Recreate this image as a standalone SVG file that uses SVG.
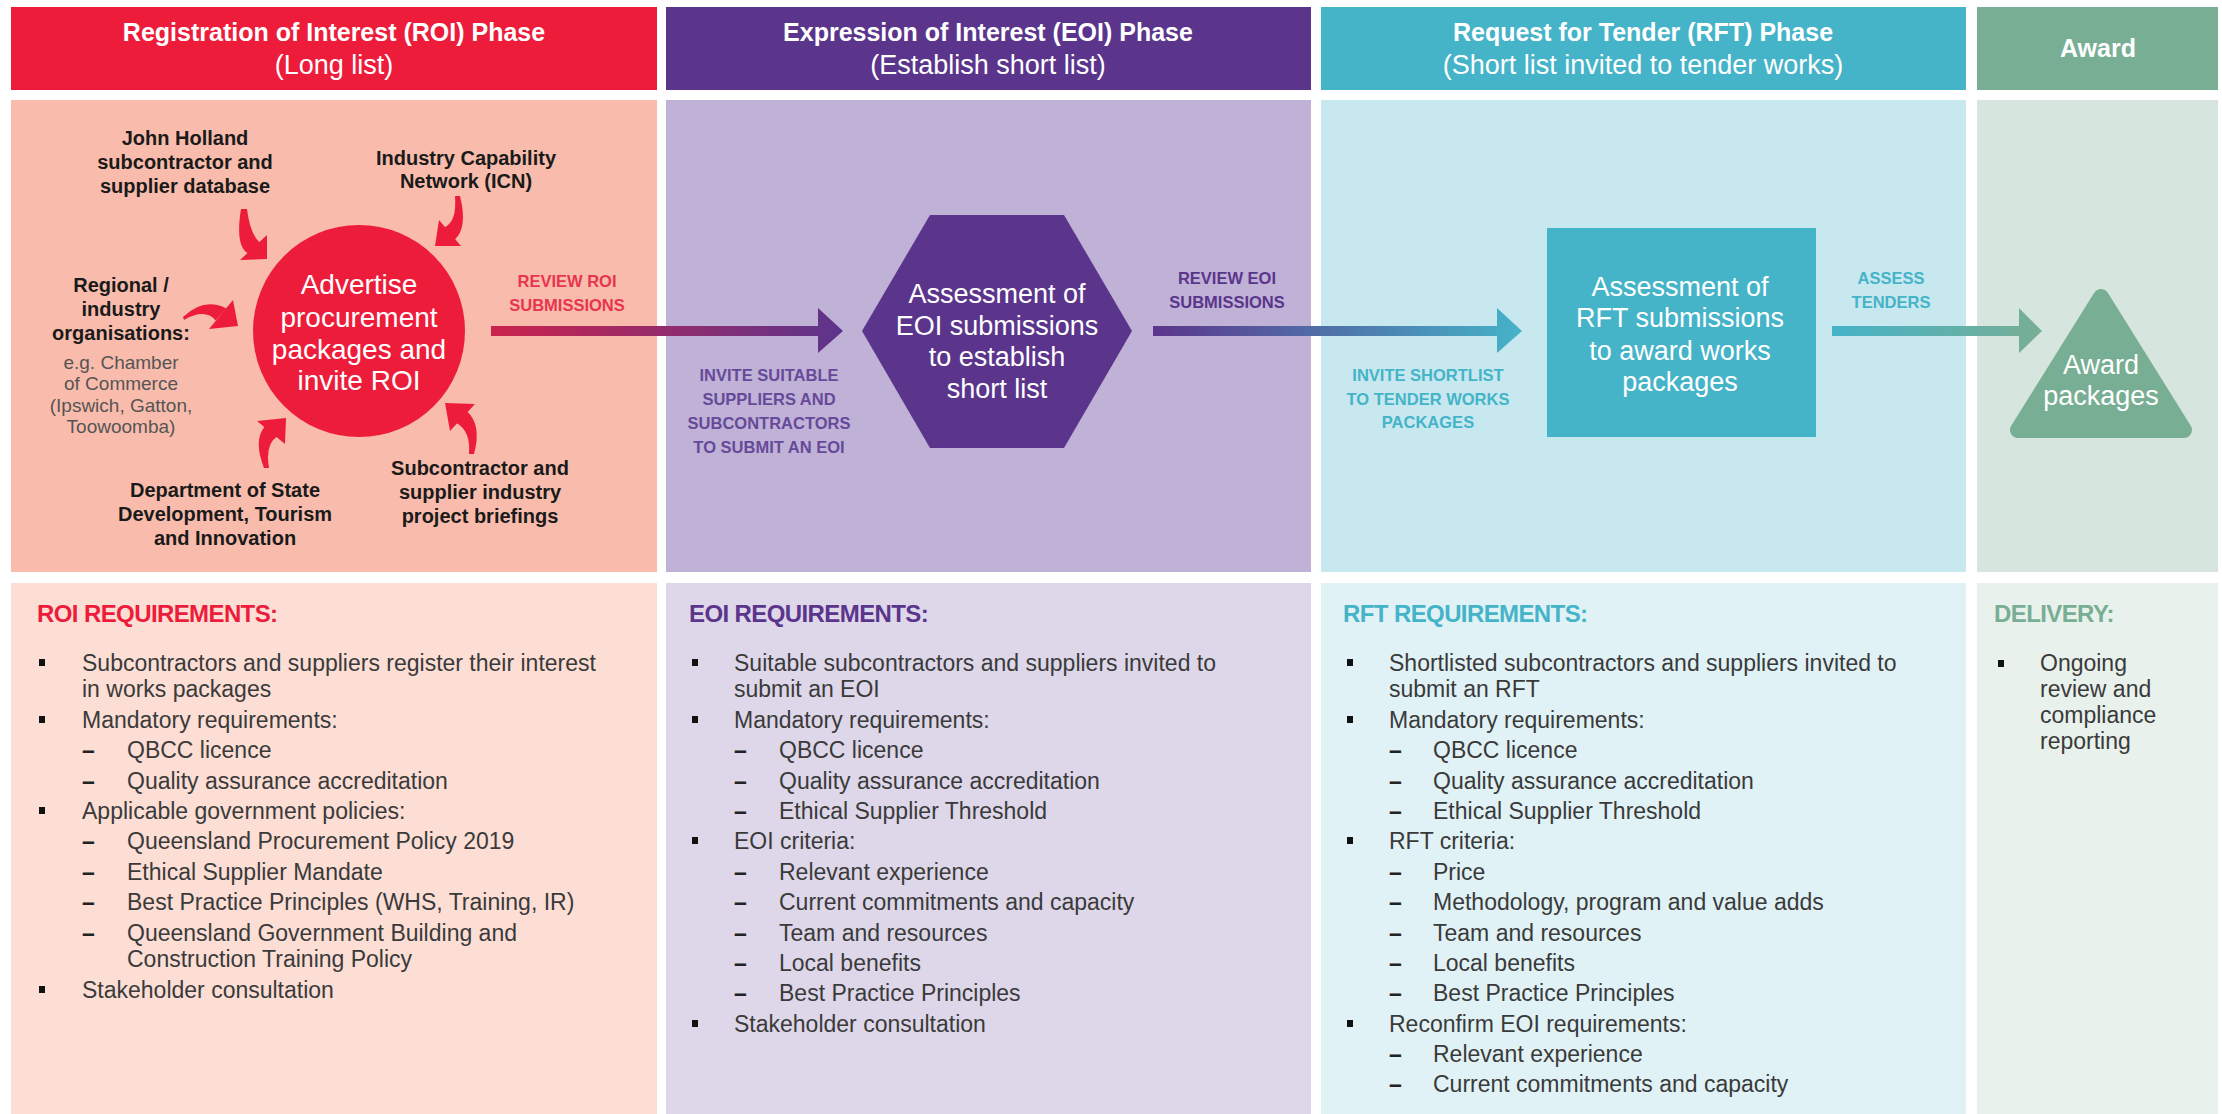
<svg xmlns="http://www.w3.org/2000/svg" width="2222" height="1114" viewBox="0 0 2222 1114">
<defs>
<linearGradient id="g1" gradientUnits="userSpaceOnUse" x1="491" y1="0" x2="843" y2="0"><stop offset="0" stop-color="#CB234C"/><stop offset="1" stop-color="#5B358C"/></linearGradient>
<linearGradient id="g2" gradientUnits="userSpaceOnUse" x1="1153" y1="0" x2="1522" y2="0"><stop offset="0" stop-color="#5B358C"/><stop offset="1" stop-color="#45B3C8"/></linearGradient>
<linearGradient id="g3" gradientUnits="userSpaceOnUse" x1="1832" y1="0" x2="2042" y2="0"><stop offset="0" stop-color="#45B3C8"/><stop offset="1" stop-color="#78AE94"/></linearGradient>
<style>
text{font-family:"Liberation Sans",Arial,sans-serif}
.t{font-size:25px;font-weight:bold;fill:#fff;text-anchor:middle}
.st{font-size:27px;fill:#fff;text-anchor:middle}
.lbl{font-size:20px;font-weight:bold;fill:#1a1a1a;text-anchor:middle}
.eg{font-size:19px;fill:#555;text-anchor:middle}
.nt{font-size:27px;fill:#fff;text-anchor:middle}
.cap{font-size:16.5px;font-weight:bold;text-anchor:middle}
.h{font-size:24px;font-weight:bold;letter-spacing:-0.6px}
.li{font-size:23px;fill:#3a3a3a}
.d{font-size:23px;fill:#222;font-weight:bold}
.b{fill:#111}
.ra{fill:#EE1C3B}
</style>
</defs>
<rect width="2222" height="1114" fill="#fff"/>
<g id="panels">
<rect x="11" y="7" width="646" height="83" fill="#EE1C3B"/>
<rect x="666" y="7" width="645" height="83" fill="#5B358C"/>
<rect x="1321" y="7" width="645" height="83" fill="#45B3C8"/>
<rect x="1977" y="7" width="241" height="83" fill="#78AE94"/>
<rect x="11" y="100" width="646" height="472" fill="#F9BCAC"/>
<rect x="666" y="100" width="645" height="472" fill="#C0B1D6"/>
<rect x="1321" y="100" width="645" height="472" fill="#C7E8EF"/>
<rect x="1977" y="100" width="241" height="472" fill="#D6E5DD"/>
<rect x="11" y="583" width="646" height="531" fill="#FCDED5"/>
<rect x="666" y="583" width="645" height="531" fill="#DDD7E9"/>
<rect x="1321" y="583" width="645" height="531" fill="#E0F2F6"/>
<rect x="1977" y="583" width="241" height="531" fill="#E8F1EC"/>
</g>
<g id="headers">
<text class="t" x="334" y="41">Registration of Interest (ROI) Phase</text>
<text class="st" x="334" y="74">(Long list)</text>
<text class="t" x="988" y="41">Expression of Interest (EOI) Phase</text>
<text class="st" x="988" y="74">(Establish short list)</text>
<text class="t" x="1643" y="41">Request for Tender (RFT) Phase</text>
<text class="st" x="1643" y="74">(Short list invited to tender works)</text>
<text class="t" x="2098" y="57">Award</text>
</g>
<g id="connectors">
<path d="M491,326 L818,326 L818,308 L843,331 L818,353 L818,336 L491,336 Z" fill="url(#g1)"/>
<path d="M1153,326 L1497,326 L1497,308 L1522,331 L1497,353 L1497,336 L1153,336 Z" fill="url(#g2)"/>
<path d="M1832,326 L2019,326 L2019,308 L2042,331 L2019,353 L2019,336 L1832,336 Z" fill="url(#g3)"/>
<g id="feed-arrows">
<path class="ra" d="M241,209 Q235,246 248,253.3 L260,242.7 Q250,234 247,209 Z"/>
<path class="ra" d="M240,260 L267,235 L267,259 Z"/>
<path class="ra" d="M455,196 Q457,222 444.4,227.3 L454.6,239.7 Q468,228 460,196 Z"/>
<path class="ra" d="M435,246 L461,246 L439,220 Z"/>
<path class="ra" d="M183,317 Q204,297 226.3,308.5 L215.7,320.5 Q205,308 184,320 Z"/>
<path class="ra" d="M233,300 L238,326 L209,329 Z"/>
<path class="ra" d="M264,468 Q253,440 264.8,426.5 L277.2,436.5 Q265,444 269,468 Z"/>
<path class="ra" d="M257,421 L286,418 L285,444 Z"/>
<path class="ra" d="M469,454 Q471,431 456,422.8 L467,411.2 Q482,425 474,454 Z"/>
<path class="ra" d="M445,403 L475,404 L450,431 Z"/>
</g>
</g>
<g id="node-advertise">
<circle cx="359" cy="331" r="106" fill="#EE1C3B"/>
<text class="nt" x="359" y="294" style="font-size:28px">Advertise</text>
<text class="nt" x="359" y="327" style="font-size:28px">procurement</text>
<text class="nt" x="359" y="359" style="font-size:28px">packages and</text>
<text class="nt" x="359" y="390" style="font-size:28px">invite ROI</text>
</g>
<g id="node-eoi-assessment">
<polygon points="930,215 1064,215 1132,331 1064,448 930,448 862,331" fill="#5B358C"/>
<text class="nt" x="997" y="303">Assessment of</text>
<text class="nt" x="997" y="335">EOI submissions</text>
<text class="nt" x="997" y="366">to establish</text>
<text class="nt" x="997" y="398">short list</text>
</g>
<g id="node-rft-assessment">
<rect x="1547" y="228" width="269" height="209" fill="#45B3C8"/>
<text class="nt" x="1680" y="296">Assessment of</text>
<text class="nt" x="1680" y="327">RFT submissions</text>
<text class="nt" x="1680" y="360">to award works</text>
<text class="nt" x="1680" y="391">packages</text>
</g>
<g id="node-award">
<polygon points="2101,297 2018,430 2184,430" fill="#78AE94" stroke="#78AE94" stroke-width="16" stroke-linejoin="round"/>
<text class="nt" x="2101" y="374">Award</text>
<text class="nt" x="2101" y="405">packages</text>
</g>
<g id="source-john-holland">
<text class="lbl" x="185" y="145">John Holland</text>
<text class="lbl" x="185" y="169">subcontractor and</text>
<text class="lbl" x="185" y="193">supplier database</text>
</g>
<g id="source-icn">
<text class="lbl" x="466" y="165">Industry Capability</text>
<text class="lbl" x="466" y="188">Network (ICN)</text>
</g>
<g id="source-regional">
<text class="lbl" x="121" y="292">Regional /</text>
<text class="lbl" x="121" y="316">industry</text>
<text class="lbl" x="121" y="340">organisations:</text>
<text class="eg" x="121" y="369">e.g. Chamber</text>
<text class="eg" x="121" y="390">of Commerce</text>
<text class="eg" x="121" y="412">(Ipswich, Gatton,</text>
<text class="eg" x="121" y="433">Toowoomba)</text>
</g>
<g id="source-department">
<text class="lbl" x="225" y="497">Department of State</text>
<text class="lbl" x="225" y="521">Development, Tourism</text>
<text class="lbl" x="225" y="545">and Innovation</text>
</g>
<g id="source-briefings">
<text class="lbl" x="480" y="475">Subcontractor and</text>
<text class="lbl" x="480" y="499">supplier industry</text>
<text class="lbl" x="480" y="523">project briefings</text>
</g>
<g id="connector-labels">
<text class="cap" x="567" y="287" fill="#E8354F">REVIEW ROI</text>
<text class="cap" x="567" y="311" fill="#E8354F">SUBMISSIONS</text>
<text class="cap" x="769" y="381" fill="#664A9A">INVITE SUITABLE</text>
<text class="cap" x="769" y="405" fill="#664A9A">SUPPLIERS AND</text>
<text class="cap" x="769" y="429" fill="#664A9A">SUBCONTRACTORS</text>
<text class="cap" x="769" y="453" fill="#664A9A">TO SUBMIT AN EOI</text>
<text class="cap" x="1227" y="284" fill="#5B358C">REVIEW EOI</text>
<text class="cap" x="1227" y="308" fill="#5B358C">SUBMISSIONS</text>
<text class="cap" x="1428" y="381" fill="#45B3C8">INVITE SHORTLIST</text>
<text class="cap" x="1428" y="405" fill="#45B3C8">TO TENDER WORKS</text>
<text class="cap" x="1428" y="428" fill="#45B3C8">PACKAGES</text>
<text class="cap" x="1891" y="284" fill="#45B3C8">ASSESS</text>
<text class="cap" x="1891" y="308" fill="#45B3C8">TENDERS</text>
</g>
<g id="roi-requirements">
<text class="h" x="37" y="622" fill="#EE1C3B">ROI REQUIREMENTS:</text>
<rect class="b" x="39" y="659" width="6" height="7"/><text class="li" x="82" y="671">Subcontractors and suppliers register their interest</text>
<text class="li" x="82" y="697">in works packages</text>
<rect class="b" x="39" y="716" width="6" height="7"/><text class="li" x="82" y="728">Mandatory requirements:</text>
<text class="d" x="82" y="758">–</text><text class="li" x="127" y="758">QBCC licence</text>
<text class="d" x="82" y="789">–</text><text class="li" x="127" y="789">Quality assurance accreditation</text>
<rect class="b" x="39" y="807" width="6" height="7"/><text class="li" x="82" y="819">Applicable government policies:</text>
<text class="d" x="82" y="849">–</text><text class="li" x="127" y="849">Queensland Procurement Policy 2019</text>
<text class="d" x="82" y="880">–</text><text class="li" x="127" y="880">Ethical Supplier Mandate</text>
<text class="d" x="82" y="910">–</text><text class="li" x="127" y="910">Best Practice Principles (WHS, Training, IR)</text>
<text class="d" x="82" y="941">–</text><text class="li" x="127" y="941">Queensland Government Building and</text>
<text class="li" x="127" y="967">Construction Training Policy</text>
<rect class="b" x="39" y="986" width="6" height="7"/><text class="li" x="82" y="998">Stakeholder consultation</text>
</g>
<g id="eoi-requirements">
<text class="h" x="689" y="622" fill="#5B358C">EOI REQUIREMENTS:</text>
<rect class="b" x="692" y="659" width="6" height="7"/><text class="li" x="734" y="671">Suitable subcontractors and suppliers invited to</text>
<text class="li" x="734" y="697">submit an EOI</text>
<rect class="b" x="692" y="716" width="6" height="7"/><text class="li" x="734" y="728">Mandatory requirements:</text>
<text class="d" x="734" y="758">–</text><text class="li" x="779" y="758">QBCC licence</text>
<text class="d" x="734" y="789">–</text><text class="li" x="779" y="789">Quality assurance accreditation</text>
<text class="d" x="734" y="819">–</text><text class="li" x="779" y="819">Ethical Supplier Threshold</text>
<rect class="b" x="692" y="837" width="6" height="7"/><text class="li" x="734" y="849">EOI criteria:</text>
<text class="d" x="734" y="880">–</text><text class="li" x="779" y="880">Relevant experience</text>
<text class="d" x="734" y="910">–</text><text class="li" x="779" y="910">Current commitments and capacity</text>
<text class="d" x="734" y="941">–</text><text class="li" x="779" y="941">Team and resources</text>
<text class="d" x="734" y="971">–</text><text class="li" x="779" y="971">Local benefits</text>
<text class="d" x="734" y="1001">–</text><text class="li" x="779" y="1001">Best Practice Principles</text>
<rect class="b" x="692" y="1020" width="6" height="7"/><text class="li" x="734" y="1032">Stakeholder consultation</text>
</g>
<g id="rft-requirements">
<text class="h" x="1343" y="622" fill="#45B3C8">RFT REQUIREMENTS:</text>
<rect class="b" x="1347" y="659" width="6" height="7"/><text class="li" x="1389" y="671">Shortlisted subcontractors and suppliers invited to</text>
<text class="li" x="1389" y="697">submit an RFT</text>
<rect class="b" x="1347" y="716" width="6" height="7"/><text class="li" x="1389" y="728">Mandatory requirements:</text>
<text class="d" x="1389" y="758">–</text><text class="li" x="1433" y="758">QBCC licence</text>
<text class="d" x="1389" y="789">–</text><text class="li" x="1433" y="789">Quality assurance accreditation</text>
<text class="d" x="1389" y="819">–</text><text class="li" x="1433" y="819">Ethical Supplier Threshold</text>
<rect class="b" x="1347" y="837" width="6" height="7"/><text class="li" x="1389" y="849">RFT criteria:</text>
<text class="d" x="1389" y="880">–</text><text class="li" x="1433" y="880">Price</text>
<text class="d" x="1389" y="910">–</text><text class="li" x="1433" y="910">Methodology, program and value adds</text>
<text class="d" x="1389" y="941">–</text><text class="li" x="1433" y="941">Team and resources</text>
<text class="d" x="1389" y="971">–</text><text class="li" x="1433" y="971">Local benefits</text>
<text class="d" x="1389" y="1001">–</text><text class="li" x="1433" y="1001">Best Practice Principles</text>
<rect class="b" x="1347" y="1020" width="6" height="7"/><text class="li" x="1389" y="1032">Reconfirm EOI requirements:</text>
<text class="d" x="1389" y="1062">–</text><text class="li" x="1433" y="1062">Relevant experience</text>
<text class="d" x="1389" y="1092">–</text><text class="li" x="1433" y="1092">Current commitments and capacity</text>
</g>
<g id="delivery">
<text class="h" x="1994" y="622" fill="#78AE94">DELIVERY:</text>
<rect class="b" x="1998" y="660" width="6" height="7"/><text class="li" x="2040" y="671">Ongoing</text>
<text class="li" x="2040" y="697">review and</text>
<text class="li" x="2040" y="723">compliance</text>
<text class="li" x="2040" y="749">reporting</text>
</g>
</svg>
